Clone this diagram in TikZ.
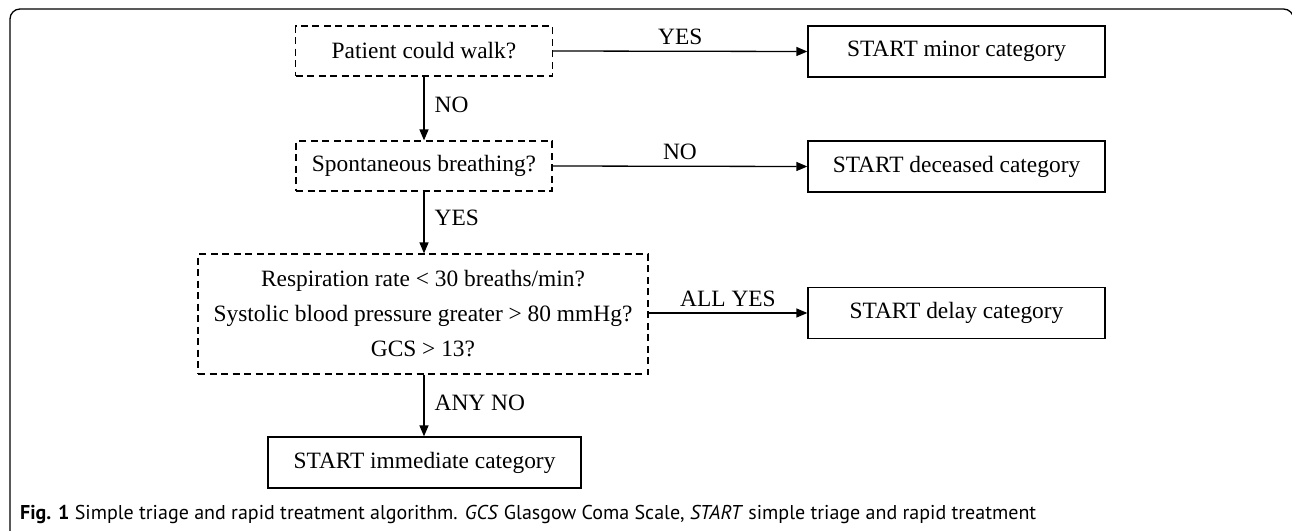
\documentclass[tikz,border=0pt]{standalone}
\usepackage{fontspec}
\setmainfont{Liberation Serif}
\newfontfamily\capfont{PT Sans}
\usetikzlibrary{arrows.meta}
\begin{document}
\begin{tikzpicture}[x=1pt,y=-1pt,
  qbox/.style={draw, line width=1.2pt, dash pattern=on 7pt off 4.5pt, inner sep=0pt, align=center,
    font=\fontsize{23.4}{35}\selectfont},
  rbox/.style={draw, line width=1.3pt, inner sep=0pt, align=center,
    minimum width=297pt, minimum height=51pt, font=\fontsize{23.4}{28}\selectfont},
  arr/.style={-{Triangle[length=11pt,width=9pt]}, line width=1.3pt},
  lab/.style={inner sep=0pt, font=\fontsize{23.4}{28}\selectfont},
  frame/.style={line width=1.3pt, rounded corners=10pt}]
\useasboundingbox (0,0) rectangle (1292,530);
\draw[frame] (10,540) -- (10,9) -- (1293.5,9) -- (1293.5,540);

\node[qbox, minimum width=257pt, minimum height=50pt] (walk) at (424,51) {Patient could walk?};
\node[qbox, minimum width=256pt, minimum height=50pt] (breath) at (424,166) {Spontaneous breathing?};
\node[qbox, minimum width=450pt, minimum height=120pt] (vitals) at (423,314)
  {Respiration rate < 30 breaths/min?\\Systolic blood pressure greater > 80 mmHg?\\GCS > 13?};

\node[rbox] (minor) at (956.5,51.5) {START minor category};
\node[rbox] (deceased) at (956.5,166.5) {START deceased category};
\node[rbox] (delay) at (956.5,313) {START delay category};
\node[rbox, minimum width=313pt] (immediate) at (424.5,462.5) {START immediate category};

\draw[arr] (walk.east) -- node[lab, above=6pt, midway] (l1) {YES} (minor.west);
\draw[arr] (breath.east) -- node[lab, above=6pt, midway] (l2) {NO} (deceased.west);
\draw[arr] (vitals.east |- delay.west) -- node[lab, above=6pt, midway] (l3) {ALL YES} (delay.west);
\draw[arr] (walk.south) -- node[lab, right=10pt, pos=0.45] (l4) {NO} (breath.north);
\draw[arr] (breath.south) -- node[lab, right=10pt, pos=0.42] (l5) {YES} (vitals.north -| breath.south);
\draw[arr] (vitals.south -| breath.south) -- node[lab, right=10pt, pos=0.45] (l6) {ANY NO} (immediate.north -| breath.south);

\node[anchor=base west, inner sep=0pt, font=\capfont\fontsize{20}{22}\selectfont] (caption) at (20,519)
  {\textbf{Fig. 1} Simple triage and rapid treatment algorithm. \textit{GCS} Glasgow Coma Scale, \textit{START} simple triage and rapid treatment};
\end{tikzpicture}
\end{document}
